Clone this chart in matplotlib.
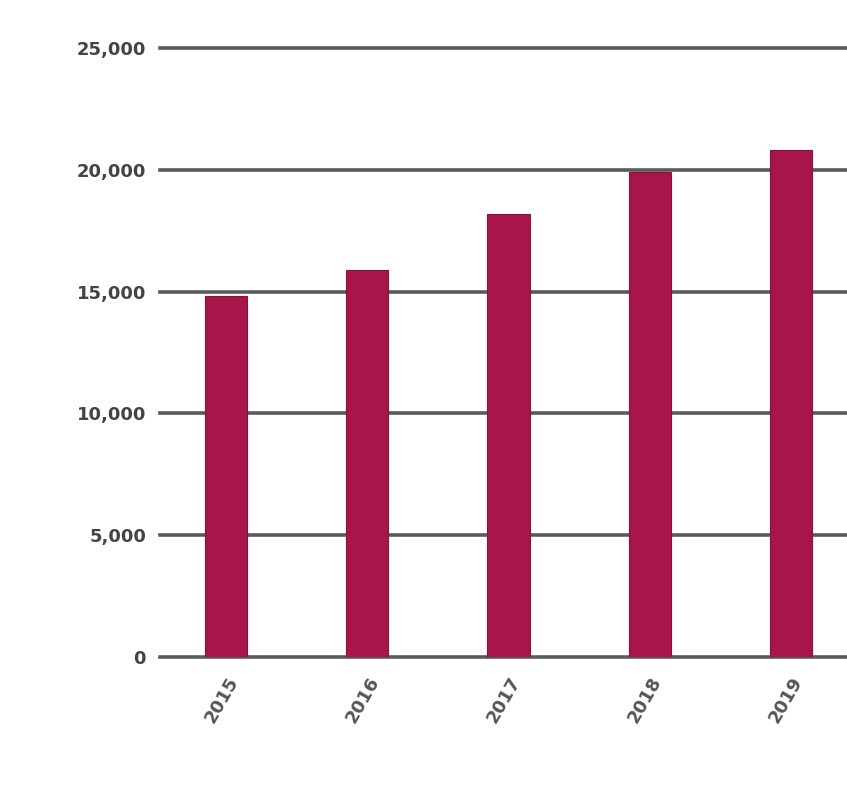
import matplotlib
matplotlib.use("Agg")
import matplotlib.pyplot as plt
from matplotlib.ticker import FuncFormatter

years = ["2015", "2016", "2017", "2018", "2019"]
values = [14800, 15900, 18200, 19900, 20800]
yticks = [0, 5000, 10000, 15000, 20000, 25000]

W, H = 847, 798
fig = plt.figure(figsize=(W / 100, H / 100), dpi=100)
fig.patch.set_facecolor("white")
left, right = 160 / W, 1.0
bottom, top = (H - 657) / H, (H - 48) / H
ax = fig.add_axes([left, bottom, right - left, top - bottom])

x = list(range(len(years)))
ax.bar(x, values, width=0.3, color="#A8154A", edgecolor="#8A1040", linewidth=0.8, zorder=3)

ax.set_xlim(-0.468, 4.397)
ax.set_ylim(0, 25000)
ax.set_yticks(yticks)
ax.yaxis.set_major_formatter(FuncFormatter(lambda v, p: f"{int(v):,}"))
ax.grid(axis="y", color="#5a5a5a", linewidth=2.6, zorder=1)
ax.set_axisbelow(True)
for gl in ax.get_ygridlines():
    gl.set_clip_on(False)
for s in ax.spines.values():
    s.set_visible(False)
ax.tick_params(axis="y", length=0, pad=10, labelsize=13, labelcolor="#444444")
ax.set_xticks(x)
ax.set_xticklabels(years, rotation=60, ha="right", rotation_mode="anchor",
                   fontsize=13, color="#555555")
ax.tick_params(axis="x", length=0, pad=12)
for lbl in ax.get_yticklabels():
    lbl.set_fontweight("bold")
for lbl in ax.get_xticklabels():
    lbl.set_fontweight("bold")

fig.savefig("out.png", dpi=100, facecolor="white")
